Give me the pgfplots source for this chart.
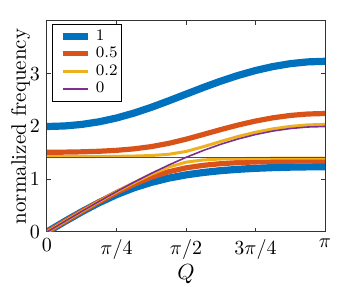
\documentclass[border=0pt]{standalone}
\usepackage{pgfplots}
\usepackage{pgfplotstable}
\pgfplotsset{compat=1.18}
\definecolor{mblue}{rgb}{0,0.447,0.741}
\definecolor{mred}{rgb}{0.85,0.325,0.098}
\definecolor{myel}{rgb}{0.929,0.694,0.125}
\definecolor{mpur}{rgb}{0.494,0.184,0.556}
\pgfplotstableread{
Q       bL      bU      rL      rU      yL      yU      pL      pU
0       0       2       0       1.51186 0       1.42857 0       1.41421
0.19635 0.19509 2.00968 0.19579 1.51370 0.19600 1.42885 0.19603 1.41421
0.39270 0.38270 2.03912 0.38821 1.51954 0.38986 1.42975 0.39018 1.41421
0.58905 0.55575 2.08932 0.57355 1.53035 0.57940 1.43145 0.58057 1.41421
0.78540 0.70835 2.16098 0.74747 1.54805 0.76225 1.43441 0.76537 1.41421
0.98175 0.83680 2.25333 0.90448 1.57591 0.93554 1.43965 0.94280 1.41421
1.17810 0.94035 2.36327 1.03797 1.61844 1.09488 1.44979 1.11114 1.41421
1.37445 1.02100 2.48540 1.14203 1.67967 1.23091 1.47254 1.26879 1.41421
1.57080 1.08239 2.61313 1.21556 1.75893 1.32371 1.52625 1.41421 1.41421
1.76715 1.12855 2.73985 1.26394 1.84928 1.36632 1.61646 1.54602 1.41421
1.96350 1.16300 2.85975 1.29499 1.94143 1.38346 1.71717 1.66294 1.41421
2.15984 1.18853 2.96811 1.31507 2.02778 1.39147 1.81087 1.76384 1.41421
2.35619 1.20720 3.06122 1.32823 2.10320 1.39579 1.89116 1.84776 1.41421
2.55254 1.22047 3.13629 1.33685 2.16443 1.39830 1.95532 1.91388 1.41421
2.74889 1.22934 3.19128 1.34227 2.20941 1.39977 2.00194 1.96157 1.41421
2.94524 1.23446 3.22479 1.34531 2.23682 1.40059 2.03017 1.99037 1.41421
3.14159 1.23607 3.23607 1.34623 2.24607 1.40079 2.03967 2.00000 1.41421
}\data
\begin{document}
\begin{tikzpicture}
\useasboundingbox (-23.5pt,-27.5pt) rectangle (156pt,116pt);
\begin{axis}[
  at={(0,0)}, anchor=south west,
  scale only axis, width=139pt, height=105.5pt,
  xmin=0, xmax=3.14159, ymin=0, ymax=4,
  xtick={0,0.785398,1.570796,2.356194,3.141593},
  xticklabels={$0$,$\pi/4$,$\pi/2$,$3\pi/4$,$\pi$},
  ytick={0,1,2,3},
  tick align=inside,
  major tick length=2pt,
  axis line style={black!80, line width=0.5pt},
  tick style={black!80, line width=0.5pt},
  xlabel={$Q$},
  ylabel={normalized frequency},
  label style={font=\fontsize{10.5}{12}\selectfont},
  xlabel style={yshift=4pt},
  ylabel style={yshift=-7pt},
  legend cell align=left,
  legend style={at={(0,1)}, anchor=north west, xshift=2.35pt, yshift=-1.5pt,
    draw=black, line width=0.4pt, font=\fontsize{8}{9}\selectfont,
    inner xsep=3.5pt, inner ysep=1.5pt,
    nodes={inner ysep=1pt}},
  legend image code/.code={\draw[#1] (0cm,0cm) -- (0.45cm,0cm);},
  clip=true,
]
\addplot[mblue, line width=3.6pt] table[x=Q,y=bL]{\data};
\addlegendentry{\makebox[7pt][l]{1}}
\addplot[mblue, line width=3.6pt, forget plot] table[x=Q,y=bU]{\data};
\addplot[mred, line width=2.6pt] table[x=Q,y=rL]{\data};
\addlegendentry{\makebox[7pt][l]{0.5}}
\addplot[mred, line width=2.6pt, forget plot] table[x=Q,y=rU]{\data};
\addplot[myel, line width=1.5pt] table[x=Q,y=yL]{\data};
\addlegendentry{\makebox[7pt][l]{0.2}}
\addplot[myel, line width=1.5pt, forget plot] table[x=Q,y=yU]{\data};
\addplot[mpur, line width=0.8pt] table[x=Q,y=pL]{\data};
\addlegendentry{\makebox[7pt][l]{0}}
\addplot[mpur, line width=0.8pt, forget plot] table[x=Q,y=pU]{\data};
\end{axis}
\end{tikzpicture}
\end{document}
